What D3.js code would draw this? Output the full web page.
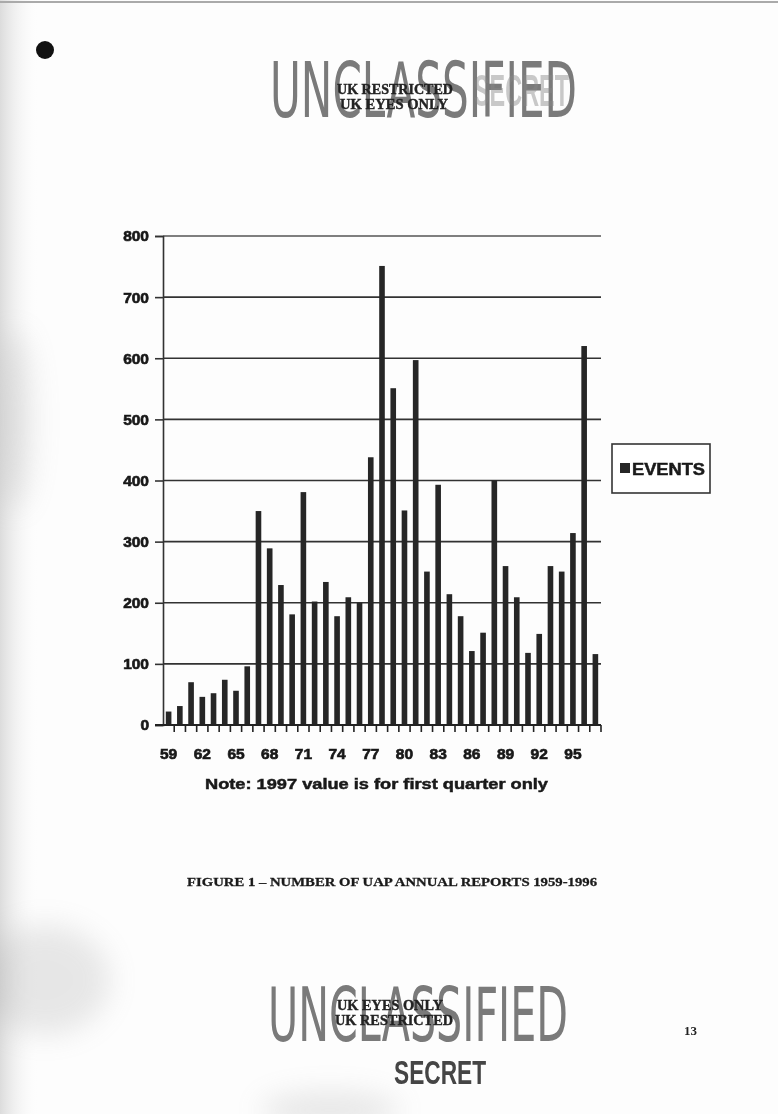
<!DOCTYPE html>
<html>
<head>
<meta charset="utf-8">
<title>Figure 1 - Number of UAP annual reports</title>
<script src="https://cdn.jsdelivr.net/npm/d3@7/dist/d3.min.js"></script>
<style>
	body { margin: 0; background: #fff; }
	svg { display: block; }
</style>
</head>
<body>
<div id="page"></div>
<script>

	// data
	var years = d3.range(1959, 1998);
	var events = [22, 31, 70, 46, 52, 74, 56, 96, 350, 289, 229, 181, 381, 202, 234, 178, 209, 200,
		438, 751, 551, 351, 597, 251, 393, 214, 178, 121, 151, 400, 260, 209, 118, 149, 260, 251, 314, 620, 116];
	var label_years = [1959, 1962, 1965, 1968, 1971, 1974, 1977, 1980, 1983, 1986, 1989, 1992, 1995];
	var y_ticks = [0, 100, 200, 300, 400, 500, 600, 700, 800];
	var series_name = "EVENTS";
	var note_text = "Note: 1997 value is for first quarter only";
	var caption_text = "FIGURE 1 \u2013 NUMBER OF UAP ANNUAL REPORTS 1959-1996";

	var W = 778, H = 1114;
	var x_left = 163, x_right = 601;
	var y_top = 236, y_base = 725;
	var label_font = "'Liberation Sans', Arial, sans-serif";

	var svg = d3.select("#page").append("svg")
		.attr("width", W)
		.attr("height", H);

	var defs = svg.append("defs");
	defs.append("filter").attr("id", "blur").append("feGaussianBlur").attr("stdDeviation", 14);
	defs.append("filter").attr("id", "soft").append("feGaussianBlur").attr("stdDeviation", 0.5);
	var grad = defs.append("linearGradient").attr("id", "edge");
	grad.append("stop").attr("offset", "0").attr("stop-color", "#bbb");
	grad.append("stop").attr("offset", "1").attr("stop-color", "#fff").attr("stop-opacity", 0);

	// scan noise: page edge, smudges, punch hole
	svg.append("rect").attr("width", W).attr("height", H).attr("fill", "#fdfdfd");
	svg.append("rect").attr("x", 0).attr("y", 0).attr("width", 40).attr("height", H).attr("fill", "url(#edge)").attr("opacity", 0.5);
	svg.append("line").attr("x1", 0).attr("x2", W).attr("y1", 2).attr("y2", 2).attr("stroke", "#aaa").attr("stroke-width", 2);
	var smudges = svg.append("g").attr("filter", "url(#blur)").attr("fill", "#999").attr("opacity", 0.22);
	smudges.append("ellipse").attr("cx", 45).attr("cy", 980).attr("rx", 65).attr("ry", 55);
	smudges.append("ellipse").attr("cx", 15).attr("cy", 420).attr("rx", 18).attr("ry", 90);
	smudges.append("ellipse").attr("cx", 330).attr("cy", 1110).attr("rx", 70).attr("ry", 18);
	svg.append("circle").attr("cx", 45).attr("cy", 50).attr("r", 9).attr("fill", "#111");

	// top stamps
	var top_stamp = svg.append("g").attr("filter", "url(#soft)");
	top_stamp.append("text")
		.attr("x", 270).attr("y", 117)
		.attr("textLength", 307).attr("lengthAdjust", "spacingAndGlyphs")
		.attr("font-family", "'Liberation Sans Narrow', 'DejaVu Sans Condensed', sans-serif")
		.attr("font-size", 76)
		.attr("fill", "#7a7a7a")
		.text("UNCLASSIFIED");
	top_stamp.append("text")
		.attr("x", 474).attr("y", 106)
		.attr("textLength", 95).attr("lengthAdjust", "spacingAndGlyphs")
		.attr("font-family", "'Liberation Sans Narrow', sans-serif")
		.attr("font-weight", "bold")
		.attr("font-size", 44)
		.attr("fill", "#888").attr("opacity", 0.45)
		.text("SECRET");
	top_stamp.append("text")
		.attr("x", 337).attr("y", 94)
		.attr("textLength", 116).attr("lengthAdjust", "spacingAndGlyphs")
		.attr("font-family", "'Liberation Serif', serif").attr("font-weight", "bold")
		.attr("font-size", 15).attr("fill", "#222").attr("stroke", "#222").attr("stroke-width", 0.4)
		.text("UK RESTRICTED");
	top_stamp.append("text")
		.attr("x", 340).attr("y", 109)
		.attr("textLength", 108).attr("lengthAdjust", "spacingAndGlyphs")
		.attr("font-family", "'Liberation Serif', serif").attr("font-weight", "bold")
		.attr("font-size", 15).attr("fill", "#222").attr("stroke", "#222").attr("stroke-width", 0.4)
		.text("UK EYES ONLY");

	// chart
	var x = d3.scaleBand().domain(years).range([x_left, x_right]).paddingInner(0.5).paddingOuter(0.25);
	var y = d3.scaleLinear().domain([0, 800]).range([y_base, y_top]);

	var chart = svg.append("g").attr("filter", "url(#soft)");

	// gridlines
	chart.selectAll(".grid")
		.data(y_ticks.slice(1))
		.enter()
		.append("line")
		.attr("class", "grid")
		.attr("x1", x_left).attr("x2", x_right)
		.attr("y1", function(d) { return y(d); })
		.attr("y2", function(d) { return y(d); })
		.attr("stroke", function(d) { return d == 800 ? "#555" : "#333"; })
		.attr("stroke-width", 1.6);

	// bars
	chart.selectAll(".bar")
		.data(years)
		.enter()
		.append("rect")
		.attr("class", "bar")
		.attr("x", function(d) { return x(d); })
		.attr("y", function(d, i) { return y(events[i]); })
		.attr("width", x.bandwidth())
		.attr("height", function(d, i) { return y_base - y(events[i]); })
		.attr("fill", "#262626");

	// y axis
	var y_axis = chart.append("g")
		.attr("transform", "translate(" + x_left + ",0)")
		.call(d3.axisLeft(y).tickValues(y_ticks).tickSize(8).tickPadding(6));
	y_axis.select(".domain").attr("stroke", "#333").attr("stroke-width", 1.6);
	y_axis.selectAll(".tick line").attr("stroke", "#333").attr("stroke-width", 1.6);
	y_axis.selectAll("text")
		.attr("font-family", label_font)
		.attr("font-weight", "bold")
		.attr("font-size", 15.5)
		.attr("fill", "#1a1a1a").attr("stroke", "#1a1a1a").attr("stroke-width", 0.7);

	// x axis
	var x_axis = chart.append("g")
		.attr("transform", "translate(0," + y_base + ")")
		.call(d3.axisBottom(x).tickValues(label_years).tickSize(0).tickPadding(23)
			.tickFormat(function(d) { return String(d).slice(2); }));
	x_axis.select(".domain").remove();
	x_axis.selectAll("text")
		.attr("font-family", label_font)
		.attr("font-weight", "bold")
		.attr("font-size", 15.5)
		.attr("fill", "#1a1a1a").attr("stroke", "#1a1a1a").attr("stroke-width", 0.7);
	chart.append("line")
		.attr("x1", x_left - 8).attr("x2", x_right)
		.attr("y1", y_base).attr("y2", y_base)
		.attr("stroke", "#222").attr("stroke-width", 2);
	var half_gap = (x.step() - x.bandwidth()) / 2;
	chart.selectAll(".xtick")
		.data(years)
		.enter()
		.append("line")
		.attr("class", "xtick")
		.attr("x1", function(d) { return x(d) + x.bandwidth() + half_gap; })
		.attr("x2", function(d) { return x(d) + x.bandwidth() + half_gap; })
		.attr("y1", y_base).attr("y2", y_base + 7)
		.attr("stroke", "#222").attr("stroke-width", 1.6);

	// note under the axis
	chart.append("text")
		.attr("x", 205).attr("y", 789)
		.attr("textLength", 343).attr("lengthAdjust", "spacingAndGlyphs")
		.attr("font-family", label_font)
		.attr("font-weight", "bold")
		.attr("font-size", 15)
		.attr("fill", "#1a1a1a").attr("stroke", "#1a1a1a").attr("stroke-width", 0.5)
		.text(note_text);

	// legend
	var legend = chart.append("g").attr("transform", "translate(612,444)");
	legend.append("rect")
		.attr("width", 98).attr("height", 49)
		.attr("fill", "#fff").attr("stroke", "#333").attr("stroke-width", 1.6);
	legend.append("rect")
		.attr("x", 8).attr("y", 19).attr("width", 10).attr("height", 10)
		.attr("fill", "#262626");
	legend.append("text")
		.attr("x", 20).attr("y", 31)
		.attr("textLength", 73).attr("lengthAdjust", "spacingAndGlyphs")
		.attr("font-family", label_font)
		.attr("font-weight", "bold")
		.attr("font-size", 16)
		.attr("fill", "#1a1a1a").attr("stroke", "#1a1a1a").attr("stroke-width", 0.5)
		.text(series_name);

	// caption
	chart.append("text")
		.attr("x", 187).attr("y", 886)
		.attr("textLength", 410).attr("lengthAdjust", "spacingAndGlyphs")
		.attr("font-family", "'Liberation Serif', serif")
		.attr("font-weight", "bold")
		.attr("font-size", 12.5)
		.attr("fill", "#1a1a1a").attr("stroke", "#1a1a1a").attr("stroke-width", 0.3)
		.text(caption_text);

	// bottom stamps
	var bottom_stamp = svg.append("g").attr("filter", "url(#soft)");
	bottom_stamp.append("text")
		.attr("x", 268).attr("y", 1041)
		.attr("textLength", 300).attr("lengthAdjust", "spacingAndGlyphs")
		.attr("font-family", "'Liberation Sans Narrow', 'DejaVu Sans Condensed', sans-serif")
		.attr("font-size", 74)
		.attr("fill", "#7a7a7a")
		.text("UNCLASSIFIED");
	bottom_stamp.append("text")
		.attr("x", 337).attr("y", 1010)
		.attr("textLength", 106).attr("lengthAdjust", "spacingAndGlyphs")
		.attr("font-family", "'Liberation Serif', serif").attr("font-weight", "bold")
		.attr("font-size", 15).attr("fill", "#222").attr("stroke", "#222").attr("stroke-width", 0.4)
		.text("UK EYES ONLY");
	bottom_stamp.append("text")
		.attr("x", 335).attr("y", 1025)
		.attr("textLength", 118).attr("lengthAdjust", "spacingAndGlyphs")
		.attr("font-family", "'Liberation Serif', serif").attr("font-weight", "bold")
		.attr("font-size", 15).attr("fill", "#222").attr("stroke", "#222").attr("stroke-width", 0.4)
		.text("UK RESTRICTED");
	bottom_stamp.append("text")
		.attr("x", 394).attr("y", 1084)
		.attr("textLength", 92).attr("lengthAdjust", "spacingAndGlyphs")
		.attr("font-family", "'Liberation Sans Narrow', sans-serif")
		.attr("font-weight", "bold")
		.attr("font-size", 34)
		.attr("fill", "#444")
		.text("SECRET");
	bottom_stamp.append("text")
		.attr("x", 684).attr("y", 1035)
		.attr("font-family", "'Liberation Serif', serif").attr("font-weight", "bold")
		.attr("font-size", 13).attr("fill", "#222")
		.text("13");

</script>
</body>
</html>
